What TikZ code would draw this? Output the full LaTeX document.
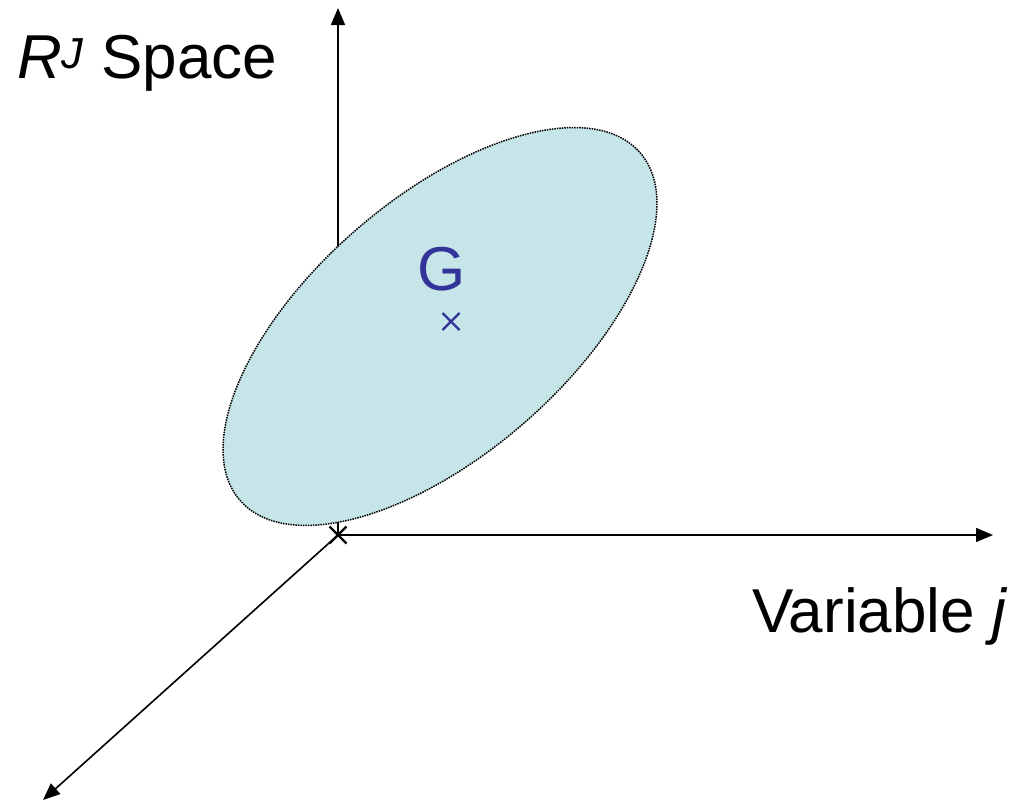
\documentclass[tikz,border=0pt]{standalone}
\usepackage{fontspec}
\setmainfont{Liberation Sans}
\usetikzlibrary{arrows.meta,calc}
\definecolor{gblue}{HTML}{333399}
\definecolor{efill}{HTML}{C5E5E8}
\begin{document}
\begin{tikzpicture}[x=1pt,y=-1pt,
  axis/.style={line width=1.6pt,-{Triangle[length=17pt,width=14pt]}},
  crossmark/.style={line width=2.4pt},
  lbl/.style={inner sep=0pt,font=\fontsize{62}{74}\selectfont}]
\useasboundingbox (0,0) rectangle (1021,803);
\coordinate (O) at (338,535);
\coordinate (Ytip) at (338,8);
\coordinate (Xtip) at (993,535);
\coordinate (Ztip) at (43,800);
\draw[axis] (O) -- (Ytip);
\draw[axis] (O) -- (Xtip);
\draw[axis] (O) -- (Ztip);
\draw[fill=efill,draw=black,densely dotted,line width=1.5pt,shift={(440,326.5)},rotate=41]
  (0,0) ellipse [x radius=265, y radius=128];
\draw[crossmark] ($(O)+(-8.5,-8.5)$) -- ($(O)+(8.5,8.5)$) ($(O)+(-8.5,8.5)$) -- ($(O)+(8.5,-8.5)$);
\coordinate (G) at (451,321.5);
\draw[crossmark,gblue] ($(G)+(-8.5,-8.5)$) -- ($(G)+(8.5,8.5)$) ($(G)+(-8.5,8.5)$) -- ($(G)+(8.5,-8.5)$);
\node[lbl,text=gblue,anchor=base] (glabel) at (442,290) {G};
\node[lbl,anchor=base west] (space) at (17,78) {\itshape R\textsuperscript{J}\upshape{} Space};
\node[lbl,anchor=base west] (varj) at (752,632) {Variable \itshape j};
\end{tikzpicture}
\end{document}
